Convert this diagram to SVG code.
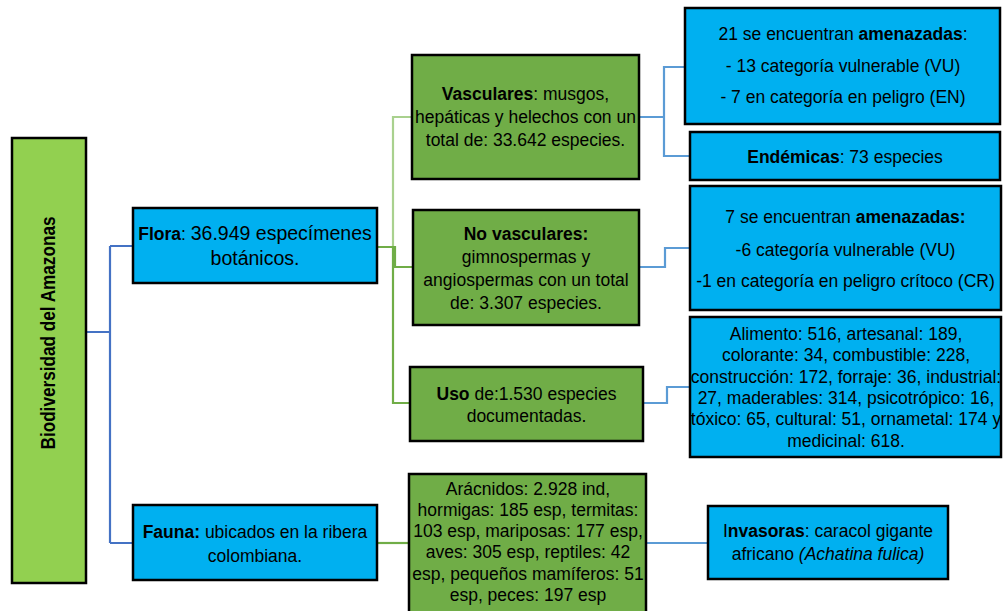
<svg xmlns="http://www.w3.org/2000/svg" width="1003" height="611" viewBox="0 0 1003 611">
<style>
.box{stroke:#000;stroke-width:2.5}
.lg{fill:#92D050}.dg{fill:#70AD47}.bl{fill:#00B0F0}
text{font-family:"Liberation Sans",Arial,sans-serif;font-size:17.5px;fill:#000;text-anchor:middle}
.bd{font-weight:bold}
.it{font-style:italic}
#connectors path{fill:none;stroke-width:2.2}
.cb{stroke:#4472C4}.cl{stroke:#5B9BD5}.cg{stroke:#70AD47}.cg2{stroke:#A9D18E}
</style>
<rect width="1003" height="611" fill="#fff"/>
<g id="connectors">
<path class="cb" d="M86,332 H110 M110,246 V543 M110,246 H133 M110,543 H133"/>
<path class="cg2" d="M377,247 H393 V117 H412"/>
<path class="cg" d="M377,247 H395 V267 H413"/>
<path class="cg" d="M393,247 V403 H410"/>
<path class="cg" d="M377,543 H409"/>
<path class="cl" d="M639,117 H664 V67 H685 M664,117 V156 H690"/>
<path class="cl" d="M639,267 H665 V248 H690"/>
<path class="cl" d="M643,403 H667 V387 H690"/>
<path class="cl" d="M646,543 H708"/>
</g>
<g id="root">
<rect class="box lg" x="12" y="138" width="74" height="445"/>
<text class="bd" transform="translate(55,333) rotate(-90)" style="font-size:21px" textLength="233" lengthAdjust="spacingAndGlyphs">Biodiversidad del Amazonas</text>
</g>
<g id="flora">
<rect class="box bl" x="133" y="208" width="244" height="75"/>
<text x="255" y="240"><tspan class="bd">Flora</tspan>: <tspan style="font-size:19.5px">36.949 especímenes</tspan></text>
<text x="255" y="265" style="font-size:19.5px">botánicos.</text>
</g>
<g id="fauna">
<rect class="box bl" x="133" y="505" width="244" height="75"/>
<text x="255" y="538"><tspan class="bd">Fauna:</tspan> ubicados en la ribera</text>
<text x="255" y="562">colombiana.</text>
</g>
<g id="vasculares">
<rect class="box dg" x="412" y="55" width="227" height="124"/>
<text x="525.5" y="100"><tspan class="bd">Vasculares</tspan>: musgos,</text>
<text x="525.5" y="123">hepáticas y helechos con un</text>
<text x="525.5" y="146">total de: 33.642 especies.</text>
</g>
<g id="novasculares">
<rect class="box dg" x="413" y="210" width="226" height="115"/>
<text x="526" y="240" class="bd">No vasculares:</text>
<text x="526" y="263">gimnospermas y</text>
<text x="526" y="286">angiospermas con un total</text>
<text x="526" y="309">de: 3.307 especies.</text>
</g>
<g id="uso">
<rect class="box dg" x="410" y="367" width="233" height="74"/>
<text x="526.5" y="400"><tspan class="bd">Uso</tspan> de:1.530 especies</text>
<text x="526.5" y="422">documentadas.</text>
</g>
<g id="faunalist">
<rect class="box dg" x="409" y="474" width="237" height="150"/>
<text x="528" y="495">Arácnidos: 2.928 ind,</text>
<text x="528" y="516">hormigas: 185 esp, termitas:</text>
<text x="528" y="537">103 esp, mariposas: 177 esp,</text>
<text x="528" y="558">aves: 305 esp, reptiles: 42</text>
<text x="528" y="580">esp, pequeños mamíferos: 51</text>
<text x="528" y="601">esp, peces: 197 esp</text>
</g>
<g id="amenazadas1">
<rect class="box bl" x="685" y="8" width="315" height="116"/>
<text x="843" y="40">21 se encuentran <tspan class="bd">amenazadas</tspan>:</text>
<text x="843" y="72">- 13 categoría vulnerable (VU)</text>
<text x="843" y="103">- 7 en categoría en peligro (EN)</text>
</g>
<g id="endemicas">
<rect class="box bl" x="690" y="132" width="310" height="48"/>
<text x="845" y="163"><tspan class="bd">Endémicas</tspan>: 73 especies</text>
</g>
<g id="amenazadas2">
<rect class="box bl" x="690" y="186" width="311" height="124"/>
<text x="845.5" y="223">7 se encuentran <tspan class="bd">amenazadas:</tspan></text>
<text x="845.5" y="256">-6 categoría vulnerable (VU)</text>
<text x="845.5" y="287">-1 en categoría en peligro crítoco (CR)</text>
</g>
<g id="usos">
<rect class="box bl" x="690" y="317" width="311" height="140"/>
<text x="846" y="340">Alimento: 516, artesanal: 189,</text>
<text x="846" y="361.3">colorante: 34, combustible: 228,</text>
<text x="846" y="382.6">construcción: 172, forraje: 36, industrial:</text>
<text x="846" y="404">27, maderables: 314, psicotrópico: 16,</text>
<text x="846" y="425.3">tóxico: 65, cultural: 51, ornametal: 174 y</text>
<text x="846" y="446.6">medicinal: 618.</text>
</g>
<g id="invasoras">
<rect class="box bl" x="708" y="506" width="240" height="73"/>
<text x="828" y="537">I<tspan class="bd">nvasoras</tspan>: caracol gigante</text>
<text x="828" y="560">africano <tspan class="it">(Achatina fulica)</tspan></text>
</g>
</svg>
